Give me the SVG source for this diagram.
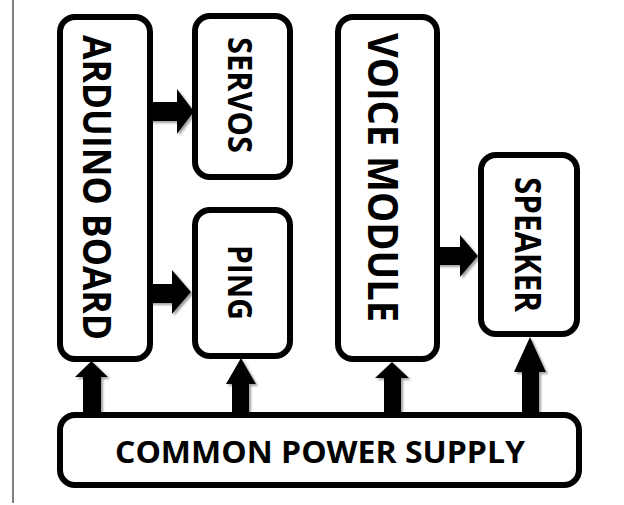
<svg xmlns="http://www.w3.org/2000/svg" width="624" height="505" viewBox="0 0 624 505">
<style>
.box{fill:#fff;stroke:#000;stroke-width:6}
.lbl{font-family:"Open Sans","Liberation Sans",sans-serif;font-weight:bold;fill:#000;text-anchor:middle}
.arr{fill:#000;filter:url(#sh)}
</style>
<defs>
<filter id="sh" x="-30%" y="-30%" width="160%" height="160%">
<feDropShadow dx="2" dy="2" stdDeviation="1.2" flood-color="#777" flood-opacity="0.7"/>
</filter>
</defs>
<rect width="624" height="505" fill="#fff"/>
<line x1="13" y1="0" x2="13" y2="503" stroke="#555" stroke-width="1.5"/>
<g id="connectors">
<polygon class="arr" points="150,102 177,102 177,89 194,111.5 177,134 177,121 150,121"/>
<polygon class="arr" points="150,284 172,284 172,270 191,292 172,314 172,303 150,303"/>
<polygon class="arr" points="437,247 460,247 460,235 478,256 460,277 460,265 437,265"/>
<polygon class="arr" points="83,415 83,377 75,377 91.5,361 108,377 101,377 101,415"/>
<polygon class="arr" points="232,415 232,384 226,384 241,358 256,384 249,384 249,415"/>
<polygon class="arr" points="384,415 384,378 375,378 392,362 409,378 401,378 401,415"/>
<polygon class="arr" points="522,415 522,372 514,372 530,337 546,372 539,372 539,415"/>
</g>
<g id="arduino">
<rect class="box" x="60" y="17" width="90" height="342" rx="15"/>
<text class="lbl" font-size="40" textLength="305" lengthAdjust="spacingAndGlyphs" transform="translate(83,187.5) rotate(90)">ARDUINO BOARD</text>
</g>
<g id="servos">
<rect class="box" x="195" y="16" width="95" height="161" rx="15"/>
<text class="lbl" font-size="34" textLength="116" lengthAdjust="spacingAndGlyphs" transform="translate(228,95) rotate(90)">SERVOS</text>
</g>
<g id="ping">
<rect class="box" x="195" y="210" width="95" height="146" rx="15"/>
<text class="lbl" font-size="34" textLength="75" lengthAdjust="spacingAndGlyphs" transform="translate(228,282.5) rotate(90)">PING</text>
</g>
<g id="voice">
<rect class="box" x="338" y="17" width="99" height="342" rx="15"/>
<text class="lbl" font-size="41" textLength="289" lengthAdjust="spacingAndGlyphs" transform="translate(368,177.5) rotate(90)">VOICE MODULE</text>
</g>
<g id="speaker">
<rect class="box" x="481" y="155" width="96" height="179" rx="15"/>
<text class="lbl" font-size="35" textLength="135" lengthAdjust="spacingAndGlyphs" transform="translate(515,244.5) rotate(90)">SPEAKER</text>
</g>
<g id="power">
<rect class="box" x="60" y="415" width="519" height="70" rx="15"/>
<text class="lbl" font-size="31" x="320" y="463" textLength="410" lengthAdjust="spacingAndGlyphs">COMMON POWER SUPPLY</text>
</g>
</svg>
